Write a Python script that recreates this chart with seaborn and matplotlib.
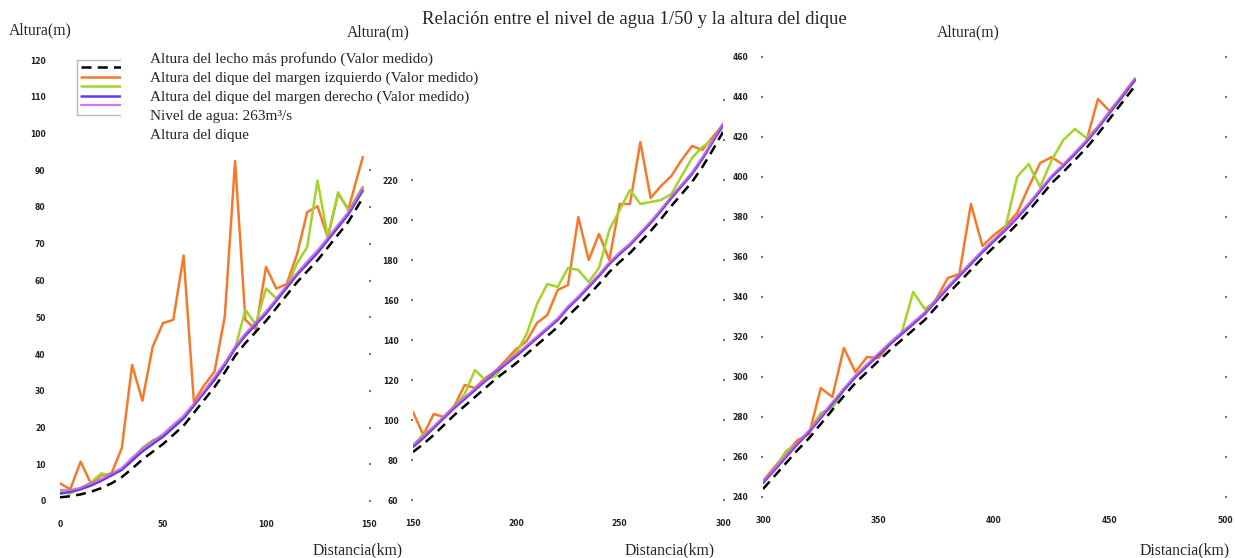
import matplotlib
matplotlib.use("Agg")
import matplotlib.pyplot as plt
from matplotlib.lines import Line2D
import seaborn as sns

# ---- data (km / m) ----
dist_1 = [0, 5, 10, 15, 20, 25, 30, 35, 40, 45, 50, 55, 60, 65, 70,
          75, 80, 85, 90, 95, 100, 105, 110, 115, 120, 125, 130, 135, 140, 147]
bed_1 = [1.0, 1.3, 1.8, 2.5, 3.5, 4.8, 6.5, 8.8, 11.3, 13.4, 15.5, 18.0, 20.5, 24.0, 27.5,
         31.0, 35.0, 39.5, 43.0, 46.0, 49.0, 52.5, 56.0, 59.5, 62.5, 65.5, 69.0, 72.5, 76.0, 82.5]
left_1 = [4.8, 3.2, 10.7, 4.8, 7.0, 7.5, 14.4, 37.0, 27.3, 42.0, 48.4, 49.3, 66.8, 27.0, 31.5,
          35.2, 50.2, 92.5, 49.3, 46.6, 63.7, 57.8, 59.0, 67.0, 78.6, 80.2, 71.8, 83.6, 79.4, 93.6]
right_1 = [2.5, 2.0, 3.5, 5.0, 7.5, 7.0, 8.5, 11.0, 14.5, 16.5, 17.5, 20.0, 22.5, 26.0, 29.5,
           33.0, 37.0, 41.5, 52.0, 48.0, 57.8, 55.1, 58.0, 64.6, 69.1, 87.2, 71.8, 84.0, 79.0, 85.5]
water_1 = [2.0, 2.5, 3.2, 4.2, 5.5, 7.0, 8.5, 11.0, 13.5, 15.5, 17.5, 20.0, 22.5, 26.0, 29.5,
           33.0, 37.0, 41.5, 45.0, 48.0, 51.0, 54.5, 58.0, 61.5, 64.5, 67.5, 71.0, 74.5, 78.0, 84.5]
dike_1 = [3.0, 3.0, 3.6, 4.8, 6.0, 7.5, 9.0, 11.8, 14.2, 16.3, 18.2, 20.8, 23.2, 26.5, 30.0,
          33.8, 37.6, 42.0, 45.6, 48.6, 51.6, 55.0, 58.6, 62.0, 65.2, 68.2, 71.6, 75.2, 78.6, 85.2]

dist_2 = [150, 155, 160, 165, 170, 175, 180, 185, 190, 195, 200, 205, 210, 215, 220, 225,
          230, 235, 240, 245, 250, 255, 260, 265, 270, 275, 280, 285, 290, 295, 300]
bed_2 = [84, 88, 92.5, 97.5, 102.5, 107, 111.5, 116, 120.5, 124.5, 128.5, 133, 137.5, 142, 146.5, 152,
         157, 162.5, 168, 174, 179, 183.5, 189, 194.5, 200.5, 207, 213, 219, 226.5, 235, 244]
left_2 = [104, 92.5, 103, 101.5, 107, 117.5, 116, 121, 124.5, 130, 135.5, 139.5, 148.5, 152.5, 165, 167.5,
          201.5, 180, 193, 180, 208, 208, 239, 211, 217, 222, 230, 237, 235, 241.5, 247.5]
right_2 = [87, 93, 96, 101.5, 106.5, 113, 125, 120, 122, 129, 133.5, 143, 158, 168, 166.5, 176,
           175, 169, 176, 195, 205, 215, 208, 209, 210, 213, 222, 231, 236.5, 240, 246.5]
water_2 = [86.5, 91, 96, 101, 106, 110.5, 115, 119.5, 124, 128, 132, 136.5, 141, 145.5, 150, 156,
           161, 166.5, 172, 178, 183, 187.5, 193, 198.5, 204.5, 211, 217, 223, 230.5, 239, 247.5]
dike_2 = [87.5, 92, 96.8, 101.8, 106.8, 111.3, 115.8, 120.3, 124.8, 128.8, 132.8, 137.3, 141.8, 146.3, 150.8, 156.8,
          161.8, 167.3, 172.8, 178.8, 183.8, 188.3, 193.8, 199.3, 205.3, 211.8, 217.8, 223.8, 231.3, 239.8, 248.3]

dist_3 = [300, 305, 310, 315, 320, 325, 330, 335, 340, 345, 350, 355, 360, 365, 370, 375, 380,
          385, 390, 395, 400, 405, 410, 415, 420, 425, 430, 435, 440, 445, 450, 455, 461]
bed_3 = [244, 250.5, 257, 263.5, 269.5, 276.5, 283.5, 290.5, 297, 302.5, 308, 313.5, 318.5, 323.5, 328.5, 335, 341.5,
         347.5, 353.5, 359.5, 365, 370.5, 376.5, 383, 390, 397, 402.5, 408.5, 414.5, 421.5, 429, 436.5, 445.5]
left_3 = [248, 255, 262, 268.5, 271.5, 294.5, 290, 314.5, 302.5, 310, 309.5, 316.5, 321.5, 326.5, 332, 339, 349.5,
          351.5, 386.5, 365.5, 371, 375.5, 382, 395, 407, 410, 406, 411.5, 418, 439, 433, 439.5, 449]
right_3 = [247.5, 254, 263, 267, 273, 282, 284.5, 293.5, 300, 305.5, 311, 316.5, 322, 342.5, 334, 338, 344.5,
           350.5, 356.5, 362.5, 368, 375, 400, 406.5, 395, 408.5, 418.5, 424, 419.5, 425, 432, 439, 448]
water_3 = [247, 253.5, 260, 266.5, 272.5, 279.5, 286.5, 293.5, 300, 305.5, 311, 316.5, 321.5, 326.5, 331.5, 338, 344.5,
           350.5, 356.5, 362.5, 368, 373.5, 379.5, 386, 393, 400, 405.5, 411.5, 417.5, 424.5, 432, 439.5, 448.5]
dike_3 = [247.8, 254.3, 260.8, 267.3, 273.3, 280.3, 287.3, 294.3, 300.8, 306.3, 311.8, 317.3, 322.3, 327.3, 332.3, 338.8, 345.3,
          351.3, 357.3, 363.3, 368.8, 374.3, 380.3, 386.8, 393.8, 400.8, 406.3, 412.3, 418.3, 425.3, 432.8, 440.3, 449.3]

# y tick labels shown on the left of each panel (the two top ones of panel 2 sit under the legend)
ylabels_1 = [str(v) for v in range(0, 121, 10)]
ylabels_2 = [str(v) for v in range(60, 221, 20)] + ['', '']
ylabels_3 = [str(v) for v in range(240, 461, 20)]

labels = ["Altura del lecho más profundo (Valor medido)",
          "Altura del dique del margen izquierdo (Valor medido)",
          "Altura del dique del margen derecho (Valor medido)",
          "Nivel de agua: 263m³/s",
          "Altura del dique"]

sns.set_theme(style="white")
plt.rcParams['font.family'] = ['Liberation Serif', 'DejaVu Serif']

W, H = 1235, 558
fig = plt.figure(figsize=(W / 100, H / 100), dpi=100)


def add_panel(left, right, bottom, top):
    # pixel box measured from the top-left corner of the picture
    return fig.add_axes([left / W, 1 - bottom / H, (right - left) / W, (bottom - top) / H])


styles = [
    dict(color='black', linestyle=(0, (4, 2.5)), linewidth=1.8),
    dict(color='#f47a2a', linewidth=1.8),
    dict(color='#a2d42a', linewidth=1.8),
    dict(color='#5b3df2', linewidth=1.8),
    dict(color='#cf5fe0', linewidth=1.6, alpha=0.85),
]

panels = [
    (add_panel(60, 369, 501, 60), dist_1, [bed_1, left_1, right_1, water_1, dike_1],
     (0, 150), (0, 120), range(0, 121, 10), ylabels_1, [0, 50, 100, 150]),
    (add_panel(413, 723, 500, 60), dist_2, [bed_2, left_2, right_2, water_2, dike_2],
     (150, 300), (60, 280), range(60, 261, 20), ylabels_2, [150, 200, 250, 300]),
    (add_panel(763, 1225, 497, 57), dist_3, [bed_3, left_3, right_3, water_3, dike_3],
     (300, 500), (240, 460), range(240, 461, 20), ylabels_3, [300, 350, 400, 450, 500]),
]

draw_order = [1, 2, 3, 4, 0]
for ax, dist, series, xlim, ylim, yticks, ylabs, xticks in panels:
    for i in draw_order:
        sns.lineplot(x=dist, y=series[i], ax=ax, legend=False, **styles[i])
    ax.set_xlim(*xlim)
    ax.set_ylim(*ylim)
    ax.set_xticks(xticks)
    ax.set_yticks(list(yticks), ylabs)
    ax.set_xlabel('')
    ax.set_ylabel('')
    ax.patch.set_visible(False)
    for s in ax.spines.values():
        s.set_visible(False)
    ax.tick_params(axis='y', left=True, right=True, direction='out', length=1.5, width=1.5,
                   color='#777777', labelsize=5.5, pad=9, labelcolor='#222222')
    ax.tick_params(axis='x', bottom=False, labelsize=5.5, pad=8, labelcolor='#222222')
    for lbl in ax.get_xticklabels() + ax.get_yticklabels():
        lbl.set_family('DejaVu Sans')
        lbl.set_fontweight('bold')

ax1 = panels[0][0]
ax1.tick_params(axis='y', left=False)
ax1.set_zorder(2)

handles = [Line2D([], [], **st) for st in styles]
leg_h = ax1.legend(handles, [''] * 5, loc='upper left', bbox_to_anchor=(77 / W, 1 - 60 / H),
                   bbox_transform=fig.transFigure, fontsize=7, borderpad=0.4, borderaxespad=0,
                   handlelength=4.8, handletextpad=0, labelspacing=0.05, frameon=True,
                   fancybox=False, edgecolor='#bbbbbb', facecolor='white', framealpha=1)
ax1.add_artist(leg_h)
leg_t = ax1.legend(handles, labels, loc='upper left', bbox_to_anchor=(121 / W, 1 - 46 / H),
                   bbox_transform=fig.transFigure, fontsize=11, borderpad=0.4, borderaxespad=0,
                   handlelength=1.5, handletextpad=0, labelspacing=0.34, frameon=True,
                   fancybox=False, edgecolor='none', facecolor='white', framealpha=1)
for h in leg_t.legend_handles:
    h.set_visible(False)


def px_text(x, y, s, size=11.3, **kw):
    fig.text(x / W, 1 - y / H, s, ha='center', va='center', fontsize=size, zorder=5, **kw)


px_text(634, 20, "Relación entre el nivel de agua 1/50 y la altura del dique", size=13.5)
px_text(40, 30, "Altura(m)")
px_text(378, 32, "Altura(m)")
px_text(968, 32, "Altura(m)")
px_text(358, 550, "Distancia(km)")
px_text(670, 550, "Distancia(km)")
px_text(1185, 550, "Distancia(km)")

fig.savefig("out.png", dpi=100)
